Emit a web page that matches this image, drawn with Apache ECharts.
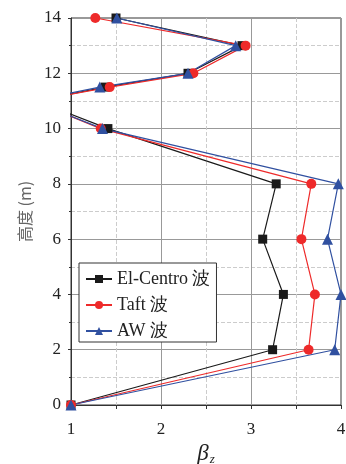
<!DOCTYPE html>
<html>
<head>
<meta charset="utf-8">
<script src="https://cdn.jsdelivr.net/npm/echarts@6/dist/echarts.min.js"></script>
<style>
html,body{margin:0;padding:0;background:#fff;}
#chart{width:346px;height:464px;}
</style>
</head>
<body>
<div id="chart"></div>
<script>
// 高度 (m)
const heights = [0, 2, 4, 6, 8, 10, 11, 11.5, 12, 13, 14];
// β_z for each wave
const elCentro = [1, 3.24, 3.36, 3.13, 3.28, 1.41, 0.62, 1.38, 2.30, 2.90, 1.50];
const taft     = [1, 3.64, 3.71, 3.56, 3.67, 1.33, 0.58, 1.43, 2.36, 2.94, 1.27];
const aw       = [1, 3.93, 4.00, 3.85, 3.97, 1.35, 0.56, 1.32, 2.30, 2.83, 1.51];
const seriesNames = ['El-Centro 波', 'Taft 波', 'AW 波'];

const serif = '"Liberation Serif", "Times New Roman", serif';

function pairs(vals) {
  return vals.map((v, i) => [v, heights[i]]);
}

const chart = echarts.init(document.getElementById('chart'));

const mkSeries = (name, vals, color, symbol, size) => ({
  type: 'line',
  name: name,
  data: pairs(vals),
  symbol: symbol,
  symbolSize: size,
  clip: true,
  lineStyle: { color: color, width: 1.2 },
  itemStyle: { color: color, borderWidth: 0 },
  emphasis: { disabled: true },
  animation: false
});

chart.setOption({
  animation: false,
  grid: {
    left: 71, right: 5, top: 18, bottom: 59,
    outerBoundsMode: 'none',
    containLabel: false,
    show: true, borderColor: '#333', borderWidth: 1
  },
  legend: {
    data: seriesNames,
    orient: 'vertical',
    left: 79, top: 263,
    itemWidth: 26, itemHeight: 10,
    itemGap: 8,
    padding: [7, 6, 2, 6],
    borderColor: '#333', borderWidth: 1,
    backgroundColor: '#fff',
    textStyle: { fontFamily: serif, fontSize: 18, color: '#222' }
  },
  xAxis: {
    type: 'value',
    min: 1, max: 4, interval: 1,
    name: '{b|β}{s|z}',
    nameLocation: 'middle',
    nameGap: 31,
    nameTextStyle: {
      rich: {
        b: { fontFamily: serif, fontStyle: 'italic', fontSize: 23, color: '#222', lineHeight: 24 },
        s: { fontFamily: serif, fontStyle: 'italic', fontSize: 13, color: '#222', lineHeight: 24, verticalAlign: 'bottom', padding: [0, 0, 0, 1] }
      }
    },
    axisLine: { show: true, lineStyle: { color: '#333', width: 1 } },
    axisTick: { show: true, length: 4, lineStyle: { color: '#333' } },
    minorTick: { show: true, splitNumber: 2, length: 4, lineStyle: { color: '#333' } },
    axisLabel: { fontFamily: serif, fontSize: 17, color: '#222', margin: 16 },
    splitLine: { show: true, lineStyle: { color: '#999', width: 1 } },
    minorSplitLine: { show: true, lineStyle: { color: '#ccc', type: 'dashed', width: 1 } }
  },
  yAxis: {
    type: 'value',
    min: 0, max: 14, interval: 2,
    name: '高度 (m)',
    nameLocation: 'middle',
    nameRotate: 90,
    nameGap: 38,
    nameTextStyle: { fontFamily: '"Noto Sans CJK SC", sans-serif', fontSize: 16, color: '#666' },
    axisLine: { show: true, lineStyle: { color: '#333', width: 1 } },
    axisTick: { show: true, length: 3, lineStyle: { color: '#333' } },
    minorTick: { show: true, splitNumber: 2, length: 2, lineStyle: { color: '#333' } },
    axisLabel: { fontFamily: serif, fontSize: 17, color: '#222', margin: 10 },
    splitLine: { show: true, lineStyle: { color: '#999', width: 1 } },
    minorSplitLine: { show: true, lineStyle: { color: '#ccc', type: 'dashed', width: 1 } }
  },
  series: [
    mkSeries(seriesNames[0], elCentro, '#1a1a1a', 'rect', 9),
    mkSeries(seriesNames[1], taft, '#ee2a2a', 'circle', 10),
    mkSeries(seriesNames[2], aw, '#3050a0', 'triangle', 11)
  ]
});
</script>
</body>
</html>
